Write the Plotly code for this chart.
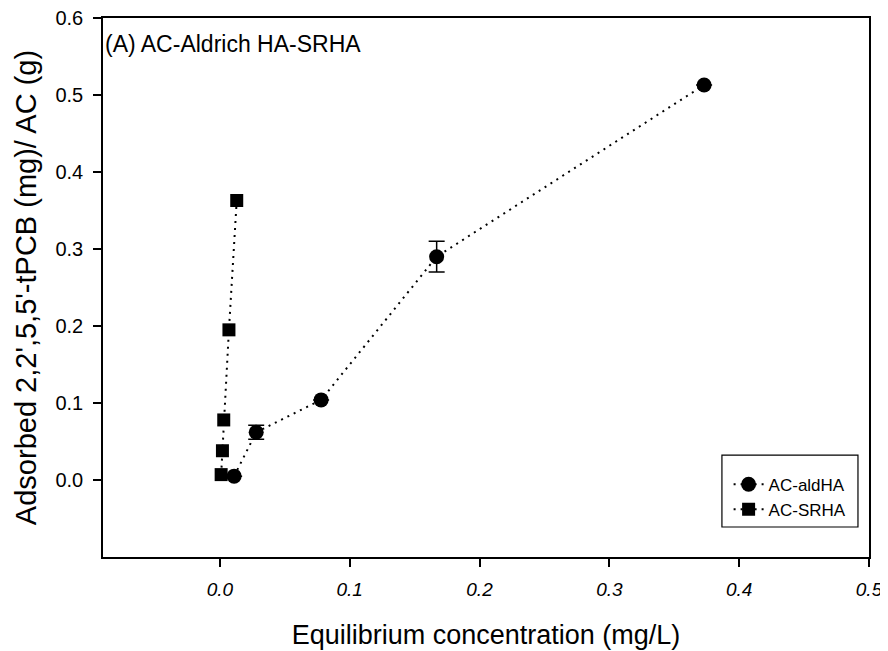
import plotly.graph_objects as go

# AC-aldHA (circles)
ald_x = [0.011, 0.028, 0.078, 0.167, 0.373]
ald_y = [0.005, 0.062, 0.104, 0.290, 0.513]
ald_err = [0.0, 0.009, 0.0, 0.020, 0.0]

# AC-SRHA (squares)
srha_x = [0.001, 0.002, 0.003, 0.007, 0.013]
srha_y = [0.007, 0.038, 0.078, 0.195, 0.363]

x_ticks = [0.0, 0.1, 0.2, 0.3, 0.4, 0.5]
y_ticks = [0.0, 0.1, 0.2, 0.3, 0.4, 0.5, 0.6]

FONT = "Liberation Sans, Arial, sans-serif"
DOT = "2px,5px"

fig = go.Figure()
fig.add_trace(go.Scatter(
    x=ald_x, y=ald_y, name="AC-aldHA", mode="lines+markers",
    line=dict(color="black", width=2, dash=DOT),
    marker=dict(symbol="circle", size=15, color="black"),
    error_y=dict(type="data", array=ald_err, visible=True, color="black",
                 thickness=1.5, width=8),
))
fig.add_trace(go.Scatter(
    x=srha_x, y=srha_y, name="AC-SRHA", mode="lines+markers",
    line=dict(color="black", width=2, dash=DOT),
    marker=dict(symbol="square", size=13, color="black"),
))

# page body has an 8px margin, so the figure is drawn 8px lower/right
fig.update_layout(
    width=880, height=643,
    margin=dict(l=95, r=19, t=10, b=94),
    plot_bgcolor="white", paper_bgcolor="white",
    font=dict(family=FONT, color="black"),
    showlegend=True,
    legend=dict(x=0.897, xanchor="center", y=0.111, yanchor="middle",
                borderwidth=0, bgcolor="rgba(0,0,0,0)",
                font=dict(size=17, family=FONT), tracegroupgap=0),
    shapes=[dict(type="rect", xref="paper", yref="paper",
                 x0=0.808, x1=0.9856, y0=0.0557, y1=0.189,
                 line=dict(color="black", width=1.2), fillcolor="white", layer="below")],
    annotations=[dict(text="(A) AC-Aldrich HA-SRHA", xref="paper", yref="paper",
                      x=0.0, y=0.98, xanchor="left", yanchor="top",
                      showarrow=False, font=dict(size=23, family=FONT))],
)
fig.update_xaxes(
    range=[-0.09, 0.5], tickvals=x_ticks, ticktext=[f"{v:.1f}" for v in x_ticks],
    showgrid=False, zeroline=False, showline=True, linecolor="black", linewidth=1.5,
    mirror=True, ticks="outside", ticklen=8, tickcolor="black", tickwidth=1.5,
    tickfont=dict(size=19, style="italic", family=FONT), ticklabelstandoff=6,
    ticklabeloverflow="allow", automargin=False,
    title=dict(text="Equilibrium concentration (mg/L)", font=dict(size=27, family=FONT),
               standoff=27),
)
fig.update_yaxes(
    range=[-0.1, 0.6], tickvals=y_ticks, ticktext=[f"{v:.1f}" for v in y_ticks],
    showgrid=False, zeroline=False, showline=True, linecolor="black", linewidth=1.5,
    mirror=True, ticks="outside", ticklen=8, tickcolor="black", tickwidth=1.5,
    tickfont=dict(size=20, family=FONT), ticklabelstandoff=6,
    ticklabeloverflow="allow", automargin=False,
    title=dict(text="Adsorbed 2,2',5,5'-tPCB (mg)/ AC (g)", font=dict(size=29, family=FONT),
               standoff=10),
)

fig.write_html("out.html")
